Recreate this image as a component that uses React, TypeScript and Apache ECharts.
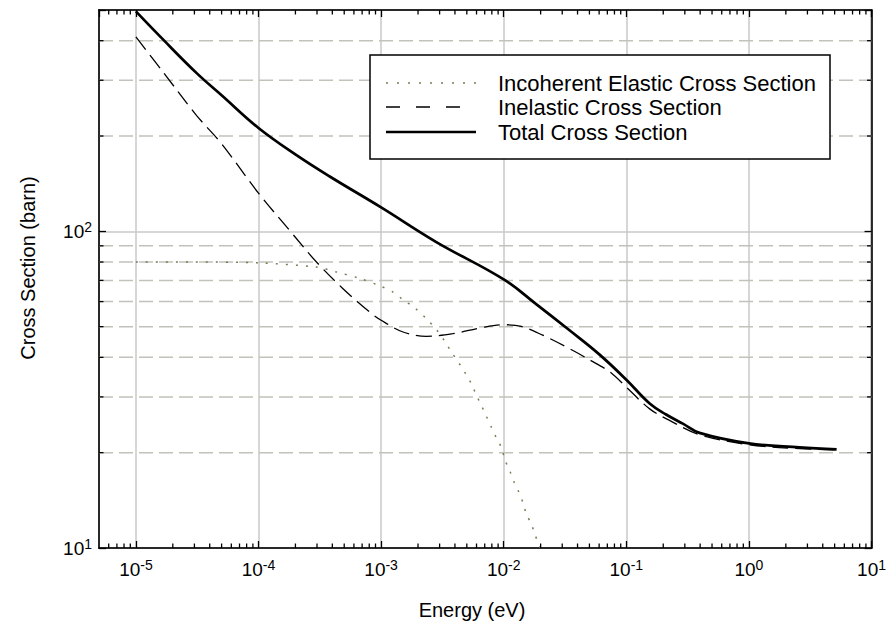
import React, { useEffect, useRef } from 'react';
import * as echarts from 'echarts';

// ---------------- data ----------------
const totalEnergy = [1e-5, 1.67e-5, 3.13e-5, 5e-5, 1e-4, 2.04e-4, 3.81e-4, 1e-3, 2.82e-3, 1e-2, 0.0185, 0.0344, 0.0605, 0.1, 0.155, 0.211, 0.289, 0.395, 1, 2.58, 5.19];
const totalXS = [495, 403, 316, 269, 212, 174, 149, 119, 92.5, 70.5, 58.8, 48.7, 40.8, 34, 28.6, 26.4, 24.7, 23.1, 21.4, 20.8, 20.5];

const inelasticEnergy = [1e-5, 1.67e-5, 3.13e-5, 5e-5, 1e-4, 1.82e-4, 2.97e-4, 4.89e-4, 8.07e-4, 1e-3, 1.51e-3, 2.34e-3, 3.85e-3, 6.37e-3, 1e-2, 0.0139, 0.0208, 0.0344, 0.0569, 0.0754, 0.1, 0.155, 0.225, 0.395, 1, 2.58, 5.19];
const inelasticXS = [411, 318, 232, 189, 132, 100, 80, 65.9, 55.6, 52.4, 48.1, 46.6, 47.5, 49.5, 50.7, 50.1, 47, 42.6, 38.2, 35.7, 32.2, 27.5, 25.3, 22.8, 21.2, 20.6, 20.4];

const elasticEnergy = [1e-5, 3e-5, 1e-4, 2.97e-4, 4.33e-4, 6.7e-4, 1e-3, 1.25e-3, 1.51e-3, 1.88e-3, 2.34e-3, 2.82e-3, 3.3e-3, 3.74e-3, 4.31e-3, 4.89e-3, 5.45e-3, 5.98e-3, 6.57e-3, 7.2e-3, 7.92e-3, 8.7e-3, 9.67e-3, 0.01017, 0.01117, 0.0121, 0.0133, 0.01435, 0.0153, 0.0168, 0.0181, 0.0199];
const elasticXS = [80, 80, 79.5, 77.1, 74.4, 71, 67, 64.3, 60.8, 57.3, 53, 49, 45, 41.6, 38.4, 35.5, 33, 30.4, 28.2, 26.1, 24.1, 22.3, 20.6, 19.05, 17.6, 16.2, 15.0, 13.9, 12.8, 11.9, 10.95, 10];

const seriesNames = ['Incoherent Elastic Cross Section', 'Inelastic Cross Section', 'Total Cross Section'];

// axis ranges and tick positions
const X_MIN = 5e-6;
const X_MAX = 10;
const Y_MIN = 10;
const Y_MAX = 500;
const xMinorTicks = [
  6e-6, 7e-6, 8e-6, 9e-6,
  2e-5, 3e-5, 4e-5, 5e-5, 6e-5, 7e-5, 8e-5, 9e-5,
  2e-4, 3e-4, 4e-4, 5e-4, 6e-4, 7e-4, 8e-4, 9e-4,
  2e-3, 3e-3, 4e-3, 5e-3, 6e-3, 7e-3, 8e-3, 9e-3,
  2e-2, 3e-2, 4e-2, 5e-2, 6e-2, 7e-2, 8e-2, 9e-2,
  0.2, 0.3, 0.4, 0.5, 0.6, 0.7, 0.8, 0.9,
  2, 3, 4, 5, 6, 7, 8, 9,
];
const yMinorTicks = [20, 30, 40, 50, 60, 70, 80, 90, 200, 300, 400];

const FONT = '"Liberation Sans", Arial, Helvetica, sans-serif';
const ELASTIC_COLOR = '#7a7a55';

function pairs(xs: number[], ys: number[]) {
  return xs.map((x, i) => [x, ys[i]]);
}

function powLabel(v: number) {
  const e = Math.log10(v);
  const r = Math.round(e);
  if (Math.abs(e - r) > 1e-6) return '';
  return `{b|10}{s|${r}}`;
}

const labelRich = {
  b: { fontSize: 19, fontFamily: FONT, color: '#000' },
  s: { fontSize: 14, fontFamily: FONT, color: '#000', padding: [0, 0, 9, 0] },
};

export default function App() {
  const ref = useRef<HTMLDivElement>(null);

  useEffect(() => {
    if (!ref.current) return;
    const chart = echarts.init(ref.current, null, { renderer: 'svg' });

    const tickStyle = { stroke: '#000', lineWidth: 1.3 };
    const MINOR = 4.5;

    const option: any = {
      animation: false,
      backgroundColor: '#fff',
      grid: {
        left: 99,
        right: 17,
        top: 10,
        bottom: 84,
        show: true,
        borderColor: '#000',
        borderWidth: 1.5,
        containLabel: false,
      },
      xAxis: [
        {
          type: 'log',
          logBase: 10,
          min: X_MIN,
          max: X_MAX,
          position: 'bottom',
          axisLine: { show: true, lineStyle: { color: '#000', width: 1.5 } },
          axisTick: { show: true, inside: true, length: 7, lineStyle: { color: '#000', width: 1.3 } },
          axisLabel: {
            show: true,
            margin: 10,
            formatter: powLabel,
            rich: labelRich,
            showMinLabel: false,
          },
          splitLine: { show: true, lineStyle: { color: '#c8c8c8', width: 1.5 } },
        },
        {
          type: 'log',
          logBase: 10,
          min: X_MIN,
          max: X_MAX,
          position: 'top',
          axisLine: { show: true, lineStyle: { color: '#000', width: 1.5 } },
          axisTick: { show: true, inside: true, length: 7, lineStyle: { color: '#000', width: 1.3 } },
          axisLabel: { show: false },
          splitLine: { show: false },
        },
      ],
      yAxis: [
        {
          type: 'log',
          logBase: 10,
          min: Y_MIN,
          max: Y_MAX,
          position: 'left',
          axisLine: { show: true, lineStyle: { color: '#000', width: 1.5 } },
          axisTick: { show: true, inside: true, length: 7, lineStyle: { color: '#000', width: 1.3 } },
          axisLabel: { show: true, margin: 7, formatter: powLabel, rich: labelRich },
          splitLine: { show: true, lineStyle: { color: '#c8c8c8', width: 1.5 } },
        },
        {
          type: 'log',
          logBase: 10,
          min: Y_MIN,
          max: Y_MAX,
          position: 'right',
          axisLine: { show: true, lineStyle: { color: '#000', width: 1.5 } },
          axisTick: { show: true, inside: true, length: 7, lineStyle: { color: '#000', width: 1.3 } },
          axisLabel: { show: false },
          splitLine: { show: false },
        },
      ],
      series: [
        // minor dashed horizontal grid lines
        {
          type: 'custom',
          name: 'minorGrid',
          silent: true,
          z: 1,
          xAxisIndex: 0,
          yAxisIndex: 0,
          data: yMinorTicks.map((v) => [X_MIN, v]),
          renderItem: (_p: any, api: any) => {
            const v = api.value(1);
            const a = api.coord([X_MIN, v]);
            const b = api.coord([X_MAX, v]);
            return {
              type: 'line',
              shape: { x1: a[0], y1: a[1], x2: b[0], y2: b[1] },
              style: { stroke: '#c2c2ba', lineWidth: 1.5, lineDash: [14, 6] },
            };
          },
        },
        // minor ticks on x (bottom & top)
        {
          type: 'custom',
          name: 'xMinor',
          silent: true,
          z: 5,
          xAxisIndex: 0,
          yAxisIndex: 0,
          data: xMinorTicks.map((v) => [v, Y_MIN]),
          renderItem: (_p: any, api: any) => {
            const v = api.value(0);
            const pb = api.coord([v, Y_MIN]);
            const pt = api.coord([v, Y_MAX]);
            return {
              type: 'group',
              children: [
                { type: 'line', shape: { x1: pb[0], y1: pb[1], x2: pb[0], y2: pb[1] - MINOR }, style: tickStyle },
                { type: 'line', shape: { x1: pt[0], y1: pt[1], x2: pt[0], y2: pt[1] + MINOR }, style: tickStyle },
              ],
            };
          },
        },
        // minor ticks on y (left & right)
        {
          type: 'custom',
          name: 'yMinor',
          silent: true,
          z: 5,
          xAxisIndex: 0,
          yAxisIndex: 0,
          data: yMinorTicks.map((v) => [X_MIN, v]),
          renderItem: (_p: any, api: any) => {
            const v = api.value(1);
            const pl = api.coord([X_MIN, v]);
            const pr = api.coord([X_MAX, v]);
            return {
              type: 'group',
              children: [
                { type: 'line', shape: { x1: pl[0], y1: pl[1], x2: pl[0] + MINOR, y2: pl[1] }, style: tickStyle },
                { type: 'line', shape: { x1: pr[0], y1: pr[1], x2: pr[0] - MINOR, y2: pr[1] }, style: tickStyle },
              ],
            };
          },
        },
        {
          type: 'line',
          name: seriesNames[0],
          z: 3,
          xAxisIndex: 0,
          yAxisIndex: 0,
          data: pairs(elasticEnergy, elasticXS),
          showSymbol: false,
          symbol: 'none',
          smooth: 0.3,
          lineStyle: { color: ELASTIC_COLOR, width: 1.5, type: [2, 8] },
        },
        {
          type: 'line',
          name: seriesNames[1],
          z: 3,
          xAxisIndex: 0,
          yAxisIndex: 0,
          data: pairs(inelasticEnergy, inelasticXS),
          showSymbol: false,
          symbol: 'none',
          smooth: 0.35,
          lineStyle: { color: '#000', width: 1.3, type: [16, 7] },
        },
        {
          type: 'line',
          name: seriesNames[2],
          z: 4,
          xAxisIndex: 0,
          yAxisIndex: 0,
          data: pairs(totalEnergy, totalXS),
          showSymbol: false,
          symbol: 'none',
          smooth: 0.4,
          lineStyle: { color: '#000', width: 2.7 },
        },
      ],
      graphic: [
        // legend
        {
          type: 'rect',
          z: 100,
          shape: { x: 370, y: 55, width: 460, height: 104 },
          style: { fill: '#fff', stroke: '#000', lineWidth: 1.5 },
        },
        {
          type: 'line',
          z: 101,
          shape: { x1: 386, y1: 83, x2: 476, y2: 83 },
          style: { stroke: ELASTIC_COLOR, lineWidth: 1.5, lineDash: [2, 9] },
        },
        {
          type: 'line',
          z: 101,
          shape: { x1: 386, y1: 107, x2: 476, y2: 107 },
          style: { stroke: '#000', lineWidth: 1.3, lineDash: [14, 16] },
        },
        {
          type: 'line',
          z: 101,
          shape: { x1: 386, y1: 132, x2: 476, y2: 132 },
          style: { stroke: '#000', lineWidth: 2.7 },
        },
        ...seriesNames.map((n, i) => ({
          type: 'text',
          z: 101,
          x: 498,
          y: [83, 107, 132][i],
          style: { text: n, fontSize: 22, fontFamily: FONT, fill: '#000', textAlign: 'left', textVerticalAlign: 'middle' },
        })),
        // axis titles
        {
          type: 'text',
          x: 472,
          y: 610,
          style: { text: 'Energy (eV)', fontSize: 20, fontFamily: FONT, fill: '#000', textAlign: 'center', textVerticalAlign: 'middle' },
        },
        {
          type: 'text',
          x: 28,
          y: 268,
          rotation: Math.PI / 2,
          style: { text: 'Cross Section (barn)', fontSize: 20, fontFamily: FONT, fill: '#000', textAlign: 'center', textVerticalAlign: 'middle' },
        },
      ],
    };

    chart.setOption(option);
    return () => chart.dispose();
  }, []);

  return (
    <div
      ref={ref}
      style={{ position: 'fixed', left: 0, top: 0, width: 889, height: 632, background: '#fff' }}
    />
  );
}
